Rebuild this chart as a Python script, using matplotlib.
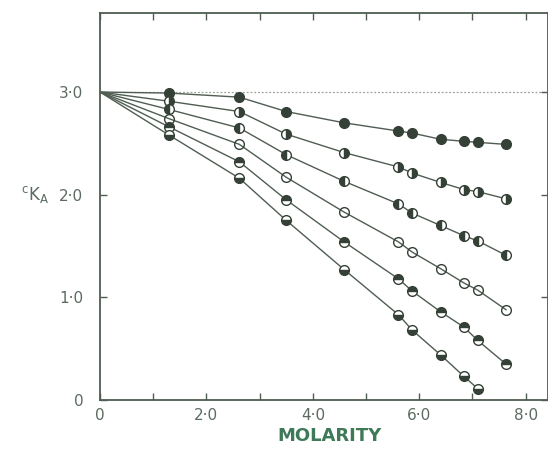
import numpy as np
import matplotlib
matplotlib.use("Agg")
import matplotlib.pyplot as plt

# molarity columns shared by all series
molarity = [1.3, 2.62, 3.5, 4.59, 5.61, 5.87, 6.40, 6.84, 7.10, 7.63]
ka0 = 3.0  # common intercept

s1 = [2.99, 2.95, 2.81, 2.70, 2.62, 2.60, 2.54, 2.52, 2.51, 2.49]
s2 = [2.91, 2.81, 2.59, 2.41, 2.27, 2.21, 2.12, 2.05, 2.03, 1.96]
s3 = [2.83, 2.65, 2.39, 2.13, 1.91, 1.82, 1.70, 1.60, 1.55, 1.41]
s4 = [2.74, 2.49, 2.17, 1.83, 1.54, 1.44, 1.28, 1.14, 1.07, 0.88]
s5 = [2.66, 2.32, 1.95, 1.54, 1.18, 1.06, 0.86, 0.71, 0.58, 0.35]
s6 = [2.58, 2.16, 1.75, 1.27, 0.83, 0.68, 0.44, 0.23, 0.11]

series = [s1, s2, s3, s4, s5, s6]
fills = ["full", "right", "left", "none", "top", "bottom"]

xticks = [0, 1, 2, 3, 4, 5, 6, 7, 8]
xlabels = ["0", "", "2·0", "", "4·0", "", "6·0", "", "8·0"]
yticks = [0, 1, 2, 3]
ylabels = ["0", "1·0", "2·0", "3·0"]

ink = "#4f5d52"
txt = "#5c6b60"
mk = "#354036"

fig = plt.figure(figsize=(5.48, 4.53), dpi=100)
ax = fig.add_axes([100 / 548, 53 / 453, 448 / 548, 387 / 453])

ax.plot([0, 8.42], [ka0, ka0], ls=(0, (1.5, 1.5)), color="#9aa39c", lw=0.9, zorder=1)
for ys, fs in zip(series, fills):
    xs = [0] + molarity[:len(ys)]
    ax.plot(xs, [ka0] + ys, "-", color=ink, lw=1.0, zorder=2)
    ax.plot(molarity[:len(ys)], ys, "o", ms=7, fillstyle=fs, color=mk,
            markerfacecoloralt="white", mec=mk, mew=1.0, ls="none", zorder=3)

ax.set_xlim(0, 8.42)
ax.set_ylim(0, 3.77)
ax.set_xticks(xticks)
ax.set_xticklabels(xlabels)
ax.set_yticks(yticks)
ax.set_yticklabels(ylabels)
ax.tick_params(direction="in", top=True, right=True, length=5, width=1.0,
               color=ink, labelcolor=txt, labelsize=11)
ax.tick_params(axis="x", pad=6)
ax.tick_params(axis="y", pad=12)
for sp in ax.spines.values():
    sp.set_color(ink)
    sp.set_linewidth(1.3)

ax.set_xlabel("MOLARITY", color="#3f7a58", fontsize=13, fontweight="semibold", labelpad=4)
ax.xaxis.set_label_coords(0.513, -0.07)
plt.rcParams["mathtext.default"] = "regular"
ax.set_ylabel(r"$^{c}K_{A}$", rotation=0, color=txt, fontsize=12)
ax.yaxis.set_label_coords(-0.145, 0.505)

fig.savefig("out.png", dpi=100, facecolor="white")
